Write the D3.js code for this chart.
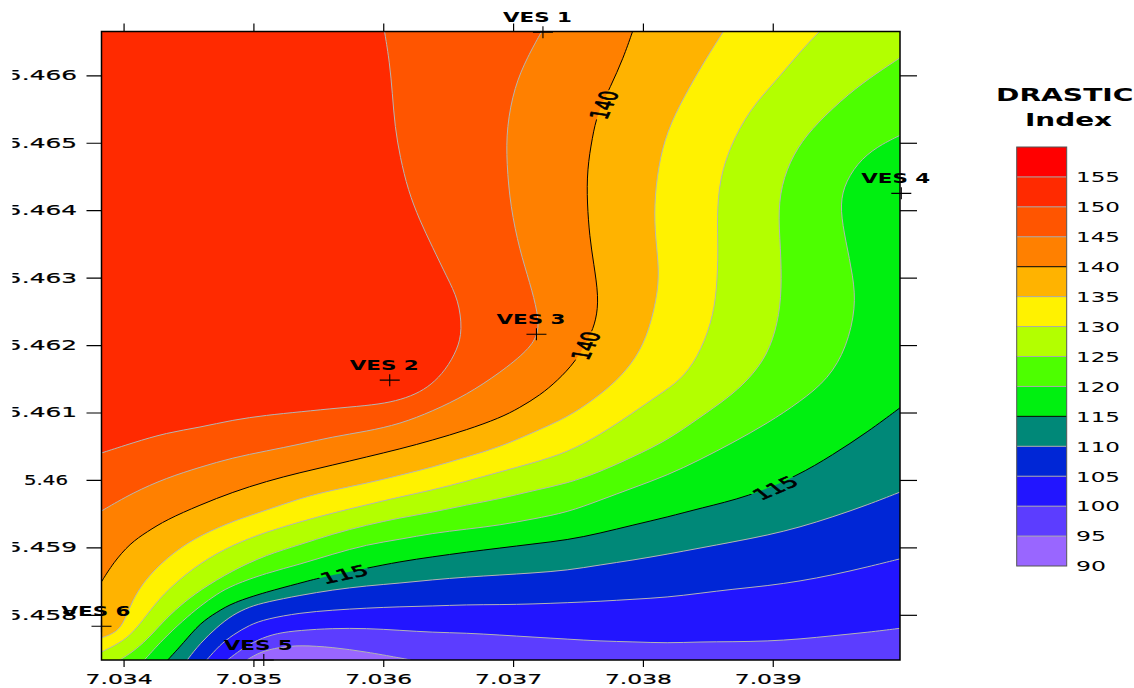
<!DOCTYPE html>
<html><head><meta charset="utf-8">
<script src="https://cdn.jsdelivr.net/npm/d3@7"></script>
<style>html,body{margin:0;padding:0;background:#fff}svg{display:block}text{font-family:"DejaVu Sans",sans-serif;fill:#000}</style>
</head><body><svg id="c" width="1134" height="688"></svg>
<script>
const xMin=7.03383,xMax=7.03998,yMin=5.45733,yMax=5.46665;
const xTicks=[7.034,7.035,7.036,7.037,7.038,7.039];
const xTickLabels=["7.034","7.035","7.036","7.037","7.038","7.039"];
const yTicks=[5.458,5.459,5.46,5.461,5.462,5.463,5.464,5.465,5.466];
const yTickLabels=["5.458","5.459","5.46","5.461","5.462","5.463","5.464","5.465","5.466"];
const legendLevels=[90,95,100,105,110,115,120,125,130,135,140,145,150,155];
const bandColors=["#9966FF","#5C3DFF","#2215FF","#0026D6","#008878","#00F010","#4DFF00","#B3FF00","#FFF200","#FFB300","#FF8000","#FF5500","#FF2A00","#FF0000"];
const blackLevels=[115,140];
const sites=["VES 1","VES 2","VES 3","VES 4","VES 5","VES 6"];
const siteX=[7.03723,7.03605,7.03718,7.03999,7.03508,7.03383];
const siteY=[5.46664,5.46148,5.46216,5.46425,5.45733,5.45783];
const contourLabels=["140","140","115","115"];
const contourLabelX=[7.03770,7.03756,7.03570,7.03902];
const contourLabelY=[5.46556,5.46199,5.45860,5.45988];

const level150=[[xMin,5.46040],[7.03407,5.46055],[7.03433,5.46070],[7.03459,5.46078],[7.03484,5.46089],[7.03510,5.46096],[7.03536,5.46101],[7.03567,5.46107],[7.03592,5.46111],[7.03610,5.46117],[7.03625,5.46127],[7.03637,5.46141],[7.03648,5.46163],[7.03657,5.46193],[7.03661,5.46222],[7.03658,5.46267],[7.03649,5.46301],[7.03638,5.46345],[7.03628,5.46385],[7.03619,5.46430],[7.03613,5.46479],[7.03609,5.46523],[7.03607,5.46574],[7.03605,5.46618],[7.03601,yMax]];
const level145=[[xMin,5.45954],[7.03407,5.45981],[7.03433,5.46003],[7.03459,5.46019],[7.03484,5.46033],[7.03510,5.46043],[7.03536,5.46053],[7.03561,5.46064],[7.03587,5.46072],[7.03613,5.46083],[7.03638,5.46102],[7.03664,5.46126],[7.03690,5.46159],[7.03712,5.46193],[7.03720,5.46218],[7.03719,5.46248],[7.03713,5.46292],[7.03705,5.46341],[7.03698,5.46405],[7.03695,5.46470],[7.03695,5.46523],[7.03701,5.46583],[7.03711,5.46627],[7.03722,yMax]];
const level140=[[xMin,5.45849],[7.03392,5.45877],[7.03405,5.45906],[7.03418,5.45923],[7.03433,5.45941],[7.03459,5.45963],[7.03484,5.45982],[7.03510,5.45998],[7.03536,5.46011],[7.03561,5.46022],[7.03587,5.46034],[7.03613,5.46046],[7.03638,5.46059],[7.03664,5.46074],[7.03690,5.46092],[7.03705,5.46107],[7.03721,5.46126],[7.03734,5.46147],[7.03748,5.46175],[7.03759,5.46212],[7.03764,5.46237],[7.03766,5.46271],[7.03762,5.46322],[7.03759,5.46360],[7.03757,5.46411],[7.03757,5.46460],[7.03761,5.46508],[7.03765,5.46544],[7.03775,5.46583],[7.03785,5.46626],[7.03792,yMax]];
const level135=[[xMin,5.45766],[7.03395,5.45774],[7.03401,5.45792],[7.03407,5.45822],[7.03415,5.45847],[7.03426,5.45871],[7.03441,5.45896],[7.03459,5.45918],[7.03487,5.45941],[7.03510,5.45955],[7.03536,5.45973],[7.03561,5.45985],[7.03587,5.45995],[7.03613,5.46007],[7.03638,5.46019],[7.03664,5.46034],[7.03690,5.46049],[7.03715,5.46070],[7.03742,5.46093],[7.03762,5.46119],[7.03780,5.46147],[7.03795,5.46181],[7.03805,5.46222],[7.03812,5.46282],[7.03812,5.46322],[7.03809,5.46371],[7.03809,5.46420],[7.03813,5.46479],[7.03821,5.46529],[7.03836,5.46583],[7.03849,5.46626],[7.03862,yMax]];
const level130=[[xMin,5.45745],[7.03397,5.45758],[7.03407,5.45773],[7.03418,5.45800],[7.03428,5.45825],[7.03441,5.45849],[7.03459,5.45877],[7.03484,5.45904],[7.03510,5.45923],[7.03536,5.45938],[7.03561,5.45951],[7.03587,5.45963],[7.03613,5.45975],[7.03638,5.45985],[7.03664,5.45998],[7.03690,5.46012],[7.03715,5.46025],[7.03742,5.46041],[7.03767,5.46067],[7.03792,5.46099],[7.03812,5.46126],[7.03829,5.46148],[7.03842,5.46181],[7.03853,5.46233],[7.03857,5.46282],[7.03858,5.46341],[7.03857,5.46390],[7.03859,5.46445],[7.03867,5.46494],[7.03882,5.46549],[7.03903,5.46593],[7.03921,5.46635],[7.03936,yMax]];
const level125=[[7.03397,yMin],[7.03407,5.45745],[7.03418,5.45763],[7.03430,5.45789],[7.03443,5.45813],[7.03459,5.45837],[7.03484,5.45866],[7.03510,5.45889],[7.03536,5.45904],[7.03561,5.45920],[7.03587,5.45933],[7.03613,5.45944],[7.03638,5.45952],[7.03664,5.45963],[7.03690,5.45972],[7.03715,5.45984],[7.03742,5.45995],[7.03767,5.46012],[7.03792,5.46034],[7.03819,5.46059],[7.03844,5.46093],[7.03865,5.46121],[7.03881,5.46148],[7.03896,5.46185],[7.03904,5.46233],[7.03907,5.46282],[7.03906,5.46345],[7.03904,5.46400],[7.03908,5.46449],[7.03919,5.46494],[7.03934,5.46529],[7.03959,5.46574],[7.03980,5.46603],[xMax,5.46626]];
const level120=[[7.03416,yMin],[7.03430,5.45763],[7.03446,5.45792],[7.03459,5.45813],[7.03472,5.45831],[7.03484,5.45844],[7.03510,5.45862],[7.03536,5.45875],[7.03561,5.45890],[7.03587,5.45904],[7.03613,5.45912],[7.03638,5.45921],[7.03664,5.45927],[7.03690,5.45933],[7.03715,5.45942],[7.03742,5.45952],[7.03767,5.45970],[7.03792,5.45988],[7.03819,5.46007],[7.03844,5.46030],[7.03869,5.46055],[7.03896,5.46084],[7.03921,5.46116],[7.03943,5.46150],[7.03957,5.46197],[7.03964,5.46256],[7.03962,5.46301],[7.03956,5.46356],[7.03952,5.46400],[7.03954,5.46434],[7.03965,5.46470],[7.03980,5.46494],[xMax,5.46511]];
const level115=[[7.03434,yMin],[7.03446,5.45758],[7.03459,5.45788],[7.03472,5.45804],[7.03484,5.45818],[7.03510,5.45834],[7.03536,5.45847],[7.03551,5.45855],[7.03587,5.45869],[7.03613,5.45879],[7.03638,5.45886],[7.03664,5.45893],[7.03690,5.45899],[7.03715,5.45905],[7.03742,5.45911],[7.03767,5.45921],[7.03792,5.45933],[7.03819,5.45945],[7.03844,5.45958],[7.03881,5.45975],[7.03919,5.46006],[7.03946,5.46037],[7.03973,5.46071],[xMax,5.46107]];
const level110=[[7.03449,yMin],[7.03459,5.45758],[7.03472,5.45782],[7.03484,5.45800],[7.03497,5.45812],[7.03510,5.45819],[7.03536,5.45829],[7.03561,5.45837],[7.03587,5.45843],[7.03613,5.45847],[7.03638,5.45852],[7.03664,5.45856],[7.03690,5.45859],[7.03715,5.45862],[7.03742,5.45866],[7.03767,5.45874],[7.03792,5.45881],[7.03819,5.45890],[7.03844,5.45899],[7.03869,5.45908],[7.03896,5.45918],[7.03921,5.45930],[7.03946,5.45945],[7.03973,5.45963],[xMax,5.45982]];
const level105=[[7.03464,yMin],[7.03474,5.45755],[7.03484,5.45770],[7.03497,5.45785],[7.03510,5.45794],[7.03536,5.45803],[7.03561,5.45807],[7.03587,5.45810],[7.03613,5.45812],[7.03638,5.45813],[7.03664,5.45815],[7.03690,5.45815],[7.03715,5.45816],[7.03742,5.45818],[7.03767,5.45820],[7.03792,5.45823],[7.03819,5.45826],[7.03844,5.45832],[7.03869,5.45838],[7.03896,5.45843],[7.03921,5.45850],[7.03946,5.45859],[7.03973,5.45871],[xMax,5.45883]];
const level100=[[7.03480,yMin],[7.03490,5.45748],[7.03503,5.45763],[7.03518,5.45773],[7.03536,5.45777],[7.03561,5.45780],[7.03587,5.45780],[7.03613,5.45777],[7.03638,5.45774],[7.03664,5.45773],[7.03690,5.45770],[7.03715,5.45767],[7.03742,5.45764],[7.03767,5.45761],[7.03792,5.45760],[7.03819,5.45758],[7.03844,5.45760],[7.03869,5.45760],[7.03896,5.45761],[7.03921,5.45764],[7.03946,5.45769],[7.03973,5.45774],[xMax,5.45780]];
const level95=[[7.03495,yMin],[7.03505,5.45745],[7.03520,5.45752],[7.03536,5.45755],[7.03561,5.45752],[7.03587,5.45745],[7.03613,5.45736],[7.03621,yMin]];
const contourLevels=[150,145,140,135,130,125,120,115,110,105,100,95];
const contourLines=[level150,level145,level140,level135,level130,level125,level120,level115,level110,level105,level100,level95];

const L=101.5,R=900,T=31.5,B=660;
const x=d3.scaleLinear().domain([xMin,xMax]).range([L,R]);
const y=d3.scaleLinear().domain([yMin,yMax]).range([B,T]);
const svg=d3.select("#c");
const defs=svg.append("defs");
defs.append("clipPath").attr("id","plot").append("rect").attr("x",L).attr("y",T).attr("width",R-L).attr("height",B-T);
defs.append("clipPath").attr("id","leftcut").append("rect").attr("x",12.5-L).attr("y",-50).attr("width",1200).attr("height",800);
const color=l=>bandColors[legendLevels.indexOf(l)];
const line=d3.line().x(d=>x(d[0])).y(d=>y(d[1])).curve(d3.curveBasis);

const plot=svg.append("g").attr("clip-path","url(#plot)");
plot.append("rect").attr("x",L).attr("y",T).attr("width",R-L).attr("height",B-T).attr("fill",color(150));
const eps=1e-6;
contourLines.forEach((pts,i)=>{
  const s=pts[0],e=pts[pts.length-1];
  const close=[];
  const eTop=Math.abs(e[1]-yMax)<eps, eRight=Math.abs(e[0]-xMax)<eps;
  if(eTop) close.push([xMax,yMax]);
  if(eTop||eRight) close.push([xMax,yMin]);
  if(Math.abs(s[0]-xMin)<eps) close.push([xMin,yMin]);
  let d=line(pts);
  close.forEach(c=>{d+="L"+x(c[0])+","+y(c[1]);});
  plot.append("path").attr("d",d+"Z").attr("fill",color(contourLevels[i]-5));
});

const stretch=1.7;
const labelAngles=[-75,-74,-20,-36];
const labelT=i=>`translate(${x(contourLabelX[i])},${y(contourLabelY[i])}) scale(${stretch},1) rotate(${labelAngles[i]})`;
const mask=defs.append("mask").attr("id","gaps").attr("maskUnits","userSpaceOnUse").attr("x",0).attr("y",0).attr("width",1134).attr("height",688);
mask.append("rect").attr("width",1134).attr("height",688).attr("fill","#fff");
contourLabels.forEach((t,i)=>mask.append("rect").attr("x",-15).attr("y",-7).attr("width",30).attr("height",14).attr("fill","#000").attr("transform",labelT(i)));

const lines=plot.append("g").attr("mask","url(#gaps)");
contourLines.forEach((pts,i)=>{
  const k=blackLevels.includes(contourLevels[i]);
  lines.append("path").attr("d",line(pts)).attr("fill","none").attr("stroke",k?"#000":"#b4b4b4").attr("stroke-width",1);
});
contourLabels.forEach((t,i)=>{
  svg.append("text").attr("transform",labelT(i)).attr("text-anchor","middle").attr("dy","0.36em").attr("font-size",15).attr("stroke","#000").attr("stroke-width",0.55).text(t);
});

svg.append("rect").attr("x",L).attr("y",T).attr("width",R-L).attr("height",B-T).attr("fill","none").attr("stroke","#000").attr("stroke-width",1.5);

function styleAxis(g){g.select(".domain").remove();g.selectAll(".tick line").attr("stroke","#000").attr("stroke-width",1.2);}
const ax=svg.append("g").attr("transform",`translate(0,${B})`).call(d3.axisBottom(x).tickValues(xTicks).tickSize(7).tickPadding(7).tickFormat((d,i)=>xTickLabels[i])).call(styleAxis);
ax.selectAll("text").attr("font-size",14).attr("font-family",'"DejaVu Sans"').attr("x",-5).attr("textLength",67).attr("lengthAdjust","spacingAndGlyphs").attr("stroke","#000").attr("stroke-width",0.2);
svg.append("g").attr("transform",`translate(0,${T})`).call(d3.axisTop(x).tickValues(xTicks).tickSize(8).tickFormat("")).call(styleAxis);
const ay=svg.append("g").attr("transform",`translate(${L},0)`).attr("clip-path","url(#leftcut)").call(d3.axisLeft(y).tickValues(yTicks).tickSize(15).tickFormat((d,i)=>yTickLabels[i])).call(styleAxis);
ay.selectAll("text").attr("font-size",14).attr("font-family",'"DejaVu Sans"').attr("text-anchor","middle").attr("x",(d,i)=>(yTickLabels[i].length===4?46:41.5)-L).attr("textLength",(d,i)=>yTickLabels[i].length===4?44:71).attr("lengthAdjust","spacingAndGlyphs").attr("stroke","#000").attr("stroke-width",0.2);
svg.append("g").attr("transform",`translate(${R},0)`).call(d3.axisRight(y).tickValues(yTicks).tickSize(17).tickFormat("")).call(styleAxis);

sites.forEach((s,i)=>{
  const px=x(siteX[i]),py=y(siteY[i]);
  svg.append("path").attr("d",`M${px-10},${py}H${px+10}M${px},${py-6}V${py+6}`).attr("stroke","#000").attr("stroke-width",1.1).attr("fill","none");
  svg.append("text").attr("x",px-5.5).attr("y",py-10).attr("text-anchor","middle").attr("font-weight","bold").attr("font-size",13.5).attr("textLength",69).attr("lengthAdjust","spacingAndGlyphs").text(s);
});

const legY=d3.scaleLinear().domain([90,160]).range([566,147]);
const legL=1016.7,legW=50;
legendLevels.forEach((l,i)=>{
  svg.append("rect").attr("x",legL).attr("y",legY(l+5)).attr("width",legW).attr("height",legY(l)-legY(l+5)).attr("fill",bandColors[i]);
});
legendLevels.slice(1).forEach(l=>{
  svg.append("line").attr("x1",legL).attr("x2",legL+legW).attr("y1",legY(l)).attr("y2",legY(l)).attr("stroke",blackLevels.includes(l)?"#000":"#a8a8a8").attr("stroke-width",1);
});
svg.append("rect").attr("x",legL).attr("y",147).attr("width",legW).attr("height",419).attr("fill","none").attr("stroke","#555").attr("stroke-width",1);
legendLevels.forEach(l=>{
  svg.append("text").attr("x",1076).attr("y",legY(l)+5.3).attr("font-size",14).attr("textLength",String(l).length===3?44:30).attr("lengthAdjust","spacingAndGlyphs").text(l);
});
svg.append("text").attr("x",996).attr("y",101).attr("font-weight","bold").attr("font-size",17).attr("textLength",137.5).attr("lengthAdjust","spacingAndGlyphs").text("DRASTIC");
svg.append("text").attr("x",1025).attr("y",126).attr("font-weight","bold").attr("font-size",17).attr("textLength",87).attr("lengthAdjust","spacingAndGlyphs").text("Index");
</script></body></html>
